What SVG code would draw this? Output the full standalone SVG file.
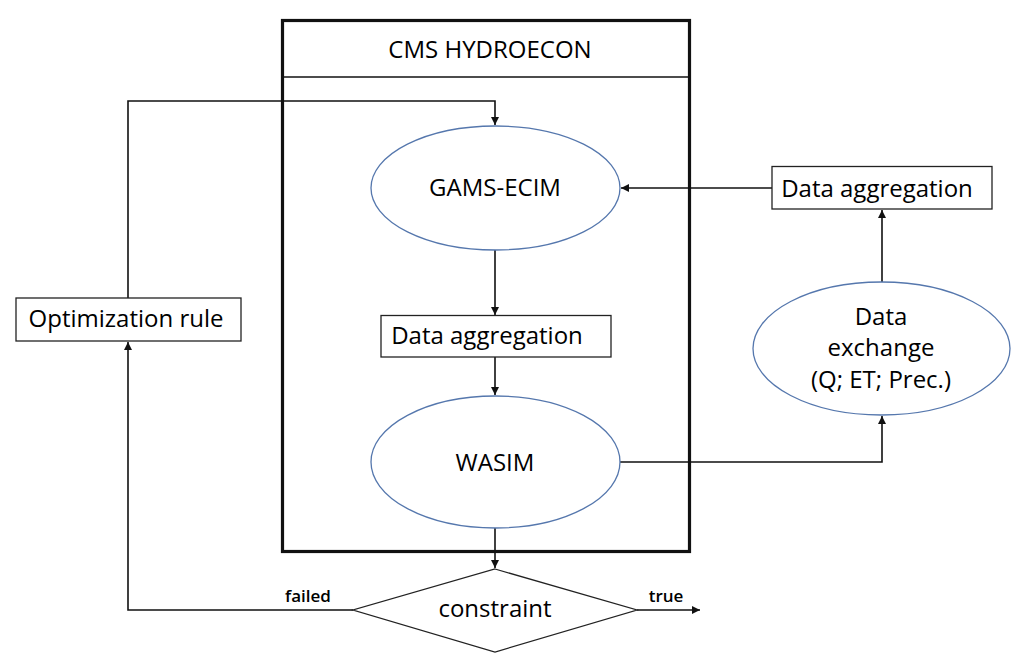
<svg xmlns="http://www.w3.org/2000/svg" width="1024" height="663" viewBox="0 0 1024 663">
<style>
text{font-family:"Open Sans","Liberation Sans",sans-serif;fill:#000;text-anchor:middle;font-size:24px}
.lbl{font-size:17px;font-weight:600}
.ell{fill:#fff;stroke:#5577ad;stroke-width:1.3}
.box{fill:#fff;stroke:#222;stroke-width:1.3}
.con{fill:none;stroke:#111;stroke-width:1.6}
</style>
<defs>
<marker id="ah" viewBox="0 0 10 10" refX="10" refY="5" markerWidth="8" markerHeight="8" markerUnits="userSpaceOnUse" orient="auto">
<path d="M0,0 L10,5 L0,10 z" fill="#111"/>
</marker>
</defs>
<rect width="1024" height="663" fill="#fff"/>
<g id="cms-hydroecon">
<rect x="282.5" y="20.5" width="407" height="531" fill="none" stroke="#111" stroke-width="3.2"/>
<line x1="282" y1="77" x2="690" y2="77" stroke="#111" stroke-width="1.3"/>
<text x="490" y="58">CMS HYDROECON</text>
</g>
<g id="connectors">
<path class="con" d="M128,298 V101 H495 V125" marker-end="url(#ah)"/>
<path class="con" d="M495,250 V315" marker-end="url(#ah)"/>
<path class="con" d="M495,357 V395" marker-end="url(#ah)"/>
<path class="con" d="M495,528 V568" marker-end="url(#ah)"/>
<path class="con" d="M353,610 H128 V342" marker-end="url(#ah)"/>
<path class="con" d="M637,610 H700" marker-end="url(#ah)"/>
<path class="con" d="M620,462 H882 V416" marker-end="url(#ah)"/>
<path class="con" d="M882,282 V210" marker-end="url(#ah)"/>
<path class="con" d="M772,188 H621" marker-end="url(#ah)"/>
</g>
<g id="gams-ecim">
<ellipse class="ell" cx="495.5" cy="188" rx="124.5" ry="62"/>
<text x="495" y="196">GAMS-ECIM</text>
</g>
<g id="data-aggregation-inner">
<rect class="box" x="381" y="315.5" width="230" height="41.5"/>
<text x="487" y="344">Data aggregation</text>
</g>
<g id="wasim">
<ellipse class="ell" cx="495.5" cy="462" rx="124.5" ry="66"/>
<text x="495" y="471">WASIM</text>
</g>
<g id="constraint">
<polygon points="495,569 637,610 495,652 353,610" fill="#fff" stroke="#222" stroke-width="1.3"/>
<text x="495" y="617">constraint</text>
</g>
<g id="labels">
<text class="lbl" x="308" y="602">failed</text>
<text class="lbl" x="666" y="602">true</text>
</g>
<g id="optimization-rule">
<rect class="box" x="16" y="298" width="225" height="43"/>
<text x="126" y="327">Optimization rule</text>
</g>
<g id="data-exchange">
<ellipse class="ell" cx="881.5" cy="348.5" rx="128.5" ry="66.5"/>
<text x="881" y="325">Data</text>
<text x="881" y="356">exchange</text>
<text x="881" y="388">(Q; ET; Prec.)</text>
</g>
<g id="data-aggregation-outer">
<rect class="box" x="772" y="166.5" width="220" height="42.5"/>
<text x="877" y="197">Data aggregation</text>
</g>
</svg>
